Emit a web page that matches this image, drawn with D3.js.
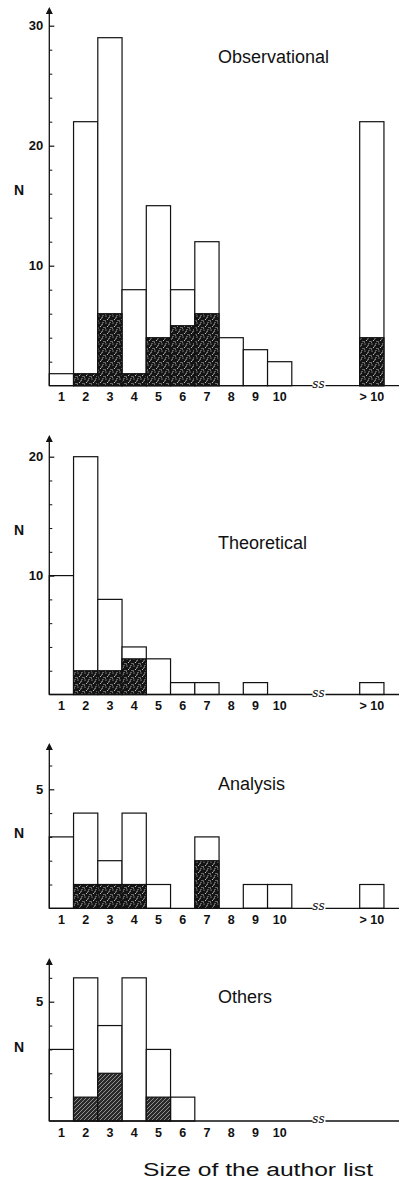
<!DOCTYPE html>
<html><head><meta charset="utf-8">
<script src="https://cdn.jsdelivr.net/npm/d3@7"></script>
<style>body{margin:0;background:#fff}svg{display:block}</style>
</head><body>
<script>
// ---- data ----
const categories = ["1","2","3","4","5","6","7","8","9","10","> 10"];
const othersCategories = ["1","2","3","4","5","6","7","8","9","10"];
const obsTotal   = [1,22,29,8,15,8,12,4,3,2,22];
const obsShaded  = [0,1,6,1,4,5,6,0,0,0,4];
const theoTotal  = [10,20,8,4,3,1,1,0,1,0,1];
const theoShaded = [0,2,2,3,0,0,0,0,0,0,0];
const anaTotal   = [3,4,2,4,1,0,3,0,1,1,1];
const anaShaded  = [0,1,1,1,0,0,2,0,0,0,0];
const othTotal   = [3,6,4,6,3,1,0,0,0,0];
const othShaded  = [0,1,2,0,1,0,0,0,0,0];
const titles = ["Observational","Theoretical","Analysis","Others"];
const xTitle = "Size of the author list";

const W = 399, H = 1186;
const svg = d3.select("body").append("svg").attr("width", W).attr("height", H);
const defs = svg.append("defs");

// stipple pattern (dark with white specks)
const st = defs.append("pattern").attr("id","stip").attr("width",7).attr("height",7).attr("patternUnits","userSpaceOnUse");
st.append("rect").attr("width",7).attr("height",7).attr("fill","#141414");
[[1,1],[4.5,2],[2.5,4.5],[6,5.5],[0.5,6],[5,0.3],[3.5,3]].forEach(p =>
  st.append("circle").attr("cx",p[0]).attr("cy",p[1]).attr("r",0.55).attr("fill","#fff").attr("opacity",0.85));
// hatched lighter pattern
const ht = defs.append("pattern").attr("id","hatch").attr("width",4).attr("height",4).attr("patternUnits","userSpaceOnUse");
ht.append("rect").attr("width",4).attr("height",4).attr("fill","#2a2a2a");
ht.append("path").attr("d","M0,4 L4,0 M-1,1 L1,-1 M3,5 L5,3").attr("stroke","#aaa").attr("stroke-width",0.8);

const x = d3.scaleLinear().domain([0, 1]).range([49.3, 73.55]);
const slot = i => i < 10 ? i : 12.8;
const axisX0 = x(0), axisX1 = 399;
const breakPos = 11.1;

const panels = [
  {title: titles[0], cats: categories, total: obsTotal, shaded: obsShaded, base: 385.7, max: 30, top: 25.7, tip: 7,
   major: [10,20,30], minorStep: 2, minorMax: 30, titleY: 63, nY: 195, pat: "stip"},
  {title: titles[1], cats: categories, total: theoTotal, shaded: theoShaded, base: 694.5, max: 20, top: 456.7, tip: 435,
   major: [10,20], minorStep: 2, minorMax: 20, titleY: 549, nY: 535, pat: "stip"},
  {title: titles[2], cats: categories, total: anaTotal, shaded: anaShaded, base: 908.3, max: 5, top: 789.3, tip: 743,
   major: [5], minorStep: 1, minorMax: 6, titleY: 790, nY: 838, pat: "stip"},
  {title: titles[3], cats: othersCategories, total: othTotal, shaded: othShaded, base: 1121, max: 5, top: 1001.7, tip: 958,
   major: [5], minorStep: 1, minorMax: 6, titleY: 1003, nY: 1052, pat: "hatch"}
];

const font = "'Liberation Sans', Arial, Helvetica, sans-serif";

panels.forEach(p => {
  const y = d3.scaleLinear().domain([0, p.max]).range([p.base, p.top]);
  const g = svg.append("g");
  const rows = p.total.map((v, i) => ({cat: p.cats[i], v, s: p.shaded[i], i}));

  // total bars
  g.selectAll("rect.tot").data(rows.filter(d => d.v > 0)).join("rect")
    .attr("class","tot")
    .attr("x", d => x(slot(d.i))).attr("width", d => x(slot(d.i)+1) - x(slot(d.i)))
    .attr("y", d => y(d.v)).attr("height", d => y(0) - y(d.v))
    .attr("fill","#fff").attr("stroke","#111").attr("stroke-width",1.2);
  // shaded part
  g.selectAll("rect.sh").data(rows.filter(d => d.s > 0)).join("rect")
    .attr("class","sh")
    .attr("x", d => x(slot(d.i))).attr("width", d => x(slot(d.i)+1) - x(slot(d.i)))
    .attr("y", d => y(d.s)).attr("height", d => y(0) - y(d.s))
    .attr("fill", `url(#${p.pat})`).attr("stroke","#111").attr("stroke-width",1.2);

  // x axis line
  g.append("line").attr("x1", axisX0).attr("x2", axisX1).attr("y1", y(0)).attr("y2", y(0))
    .attr("stroke","#111").attr("stroke-width",1.3);
  // break mark
  g.append("rect").attr("x", x(breakPos)-6).attr("y", y(0)-6).attr("width", 13).attr("height", 8).attr("fill","#fff");
  g.append("text").attr("x", x(breakPos)).attr("y", y(0)+2).attr("text-anchor","middle")
    .attr("font-family","'DejaVu Serif', serif").attr("font-style","italic").attr("font-size",12).attr("fill","#111").text("ss");

  // y axis line + arrow
  g.append("line").attr("x1", axisX0).attr("x2", axisX0).attr("y1", y(0)).attr("y2", p.tip + 4)
    .attr("stroke","#111").attr("stroke-width",1.3);
  g.append("path").attr("d", `M${axisX0},${p.tip} L${axisX0-3.5},${p.tip+7} L${axisX0+3.5},${p.tip+7} Z`).attr("fill","#111");

  // major ticks with labels
  const majorAxis = d3.axisLeft(y).tickValues(p.major).tickSize(-5).tickPadding(6).tickFormat(d3.format("d"));
  const ga = g.append("g").attr("transform", `translate(${axisX0},0)`).call(majorAxis);
  ga.select(".domain").remove();
  ga.selectAll("line").attr("stroke","#111").attr("stroke-width",1.2);
  ga.selectAll("text").attr("font-family", font).attr("font-weight","bold").attr("font-size",13).attr("fill","#111");
  // minor ticks
  const minors = d3.range(p.minorStep, p.minorMax + 0.001, p.minorStep).filter(v => !p.major.includes(v));
  const minorAxis = d3.axisLeft(y).tickValues(minors).tickSize(-3).tickFormat("");
  const gm = g.append("g").attr("transform", `translate(${axisX0},0)`).call(minorAxis);
  gm.select(".domain").remove();
  gm.selectAll("line").attr("stroke","#111").attr("stroke-width",1);

  // x category labels
  g.selectAll("text.cat").data(rows).join("text").attr("class","cat")
    .attr("x", d => x(slot(d.i) + 0.5)).attr("y", y(0) + 15.5)
    .attr("text-anchor","middle").attr("font-family", font).attr("font-weight","bold").attr("font-size",12.5)
    .attr("fill","#111").text(d => d.cat);

  // N label
  g.append("text").attr("x", 19).attr("y", p.nY).attr("text-anchor","middle")
    .attr("font-family", font).attr("font-weight","bold").attr("font-size",14).attr("fill","#111").text("N");

  // panel title
  g.append("text").attr("x", 218).attr("y", p.titleY).attr("font-family", font).attr("font-size",18)
    .attr("fill","#111").text(p.title);
});

svg.append("text").attr("x", 143).attr("y", 1176).attr("font-family", font).attr("font-size",18)
  .attr("textLength", 230).attr("lengthAdjust","spacingAndGlyphs").attr("fill","#111").text(xTitle);
</script>
</body></html>
